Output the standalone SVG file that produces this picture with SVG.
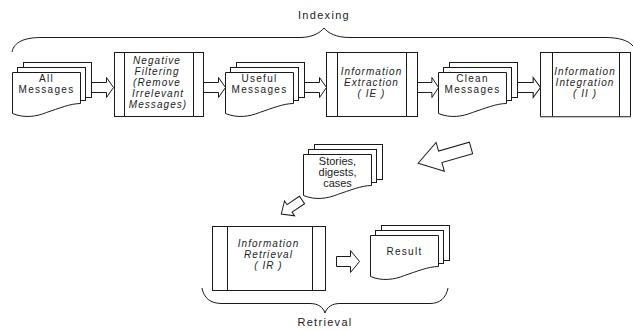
<svg xmlns="http://www.w3.org/2000/svg" xmlns:xlink="http://www.w3.org/1999/xlink" width="634" height="330" viewBox="0 0 634 330">
<style>
.ln{fill:#fff;stroke:#1a1a1a;stroke-width:1}
.br{fill:none;stroke:#1a1a1a;stroke-width:1}
.t{font-family:"Liberation Sans",Arial,sans-serif;font-size:10px;fill:#222;text-anchor:middle;letter-spacing:1.3px}
.ti{font-family:"Liberation Sans",Arial,sans-serif;font-size:10px;font-style:italic;fill:#222;text-anchor:middle;letter-spacing:1.05px}
.tp{font-family:"Liberation Sans",Arial,sans-serif;font-size:11px;fill:#222;text-anchor:middle}
.lb{font-family:"Liberation Sans",Arial,sans-serif;font-size:11px;fill:#222;text-anchor:middle;letter-spacing:1.3px}
</style>
<defs>
<g id="multidoc">
<rect class="ln" x="11" y="-10" width="68" height="35"/>
<rect class="ln" x="5" y="-5" width="68" height="33"/>
<path class="ln" d="M0,0 H68 V31 C58,31 46,36 34,40 C24,44 12,46 0,41 Z"/>
</g>
<path id="harrow" class="ln" d="M0,-5 H15 V-10 L22,0 L15,10 V5 H0 Z"/>
</defs>

<g id="labels">
<path class="br" d="M12,52 C14,42 24,37.5 42,37.5 L300,37.5 C312,37.5 320,33 324,28 C328,33 336,37.5 350,37.5 L605,37.5 C618,37.5 628,40 633,46"/>
<text class="lb" x="324" y="19">Indexing</text>
<path class="br" d="M202,288 C204,298 210,303.5 222,303.5 L310,303.5 C318,303.5 323,307 325,313 C327,307 332,303.5 340,303.5 L430,303.5 C440,303.5 446,298 448,288"/>
<text class="lb" x="325" y="326">Retrieval</text>
</g>

<g id="connectors">
<use xlink:href="#harrow" href="#harrow" transform="translate(91.5,87.5)"/>
<use xlink:href="#harrow" href="#harrow" transform="translate(203.5,87.5)"/>
<use xlink:href="#harrow" href="#harrow" transform="translate(304.5,87.5)"/>
<use xlink:href="#harrow" href="#harrow" transform="translate(417.5,87.5) scale(0.96,1)"/>
<use xlink:href="#harrow" href="#harrow" transform="translate(517.5,87.5) scale(1.045,1)"/>
<path class="ln" transform="translate(471,148) rotate(164)" d="M0,-6 H32 V-15 L55,0 L32,15 V6 H0 Z"/>
<path class="ln" transform="translate(302,200) rotate(146)" d="M0,-4.5 H15 V-9 L25,0 L15,9 V4.5 H0 Z"/>
<path class="ln" d="M336.5,256.5 H350.5 V250.5 L359.5,261.5 L350.5,272.5 V266.5 H336.5 Z"/>
</g>

<g id="all-messages" transform="translate(12.5,72.5)">
<use xlink:href="#multidoc" href="#multidoc"/>
<text class="t" x="34" y="9.5">All</text>
<text class="t" x="34" y="20.5">Messages</text>
</g>

<g id="negative-filtering">
<rect class="ln" x="114.5" y="52.5" width="89" height="64"/>
<line class="br" x1="124.5" y1="52.5" x2="124.5" y2="116.5"/>
<line class="br" x1="193.5" y1="52.5" x2="193.5" y2="116.5"/>
<text class="ti" x="157" y="63.5">Negative</text>
<text class="ti" x="157" y="74.5">Filtering</text>
<text class="ti" x="157" y="85.5">(Remove</text>
<text class="ti" x="158" y="96.5">Irrelevant</text>
<text class="ti" x="158" y="107.5">Messages)</text>
</g>

<g id="useful-messages" transform="translate(225.5,72.5)">
<use xlink:href="#multidoc" href="#multidoc"/>
<text class="t" x="34" y="9.5">Useful</text>
<text class="t" x="34" y="20.5">Messages</text>
</g>

<g id="information-extraction">
<rect class="ln" x="326.5" y="52.5" width="91" height="64"/>
<line class="br" x1="337.5" y1="52.5" x2="337.5" y2="116.5"/>
<line class="br" x1="406.5" y1="52.5" x2="406.5" y2="116.5"/>
<text class="ti" x="371.5" y="75">Information</text>
<text class="ti" x="371.5" y="86">Extraction</text>
<text class="ti" x="371.5" y="97">( IE )</text>
</g>

<g id="clean-messages" transform="translate(438.5,72.5)">
<use xlink:href="#multidoc" href="#multidoc"/>
<text class="t" x="34" y="9.5">Clean</text>
<text class="t" x="34" y="20.5">Messages</text>
</g>

<g id="information-integration">
<rect class="ln" x="540.5" y="52.5" width="90" height="64"/>
<line x1="540" y1="117" x2="631" y2="117" stroke="#888" stroke-width="1"/>
<line class="br" x1="552.5" y1="52.5" x2="552.5" y2="116.5"/>
<line class="br" x1="619.5" y1="52.5" x2="619.5" y2="116.5"/>
<text class="ti" x="585" y="75">Information</text>
<text class="ti" x="585" y="86">Integration</text>
<text class="ti" x="585" y="97">( II )</text>
</g>

<g id="stories" transform="translate(303.5,154.5)">
<use xlink:href="#multidoc" href="#multidoc"/>
<text class="tp" x="34" y="10">Stories,</text>
<text class="tp" x="34" y="21">digests,</text>
<text class="tp" x="34" y="32">cases</text>
</g>

<g id="information-retrieval">
<rect class="ln" x="212.5" y="226.5" width="113" height="64"/>
<line class="br" x1="227.5" y1="226.5" x2="227.5" y2="290.5"/>
<line class="br" x1="312.5" y1="226.5" x2="312.5" y2="290.5"/>
<text class="ti" x="268.5" y="247">Information</text>
<text class="ti" x="268.5" y="258">Retrieval</text>
<text class="ti" x="268.5" y="269">( IR )</text>
</g>

<g id="result" transform="translate(370.5,235.5)">
<use xlink:href="#multidoc" href="#multidoc"/>
<text class="t" x="34" y="19.5">Result</text>
</g>
</svg>
